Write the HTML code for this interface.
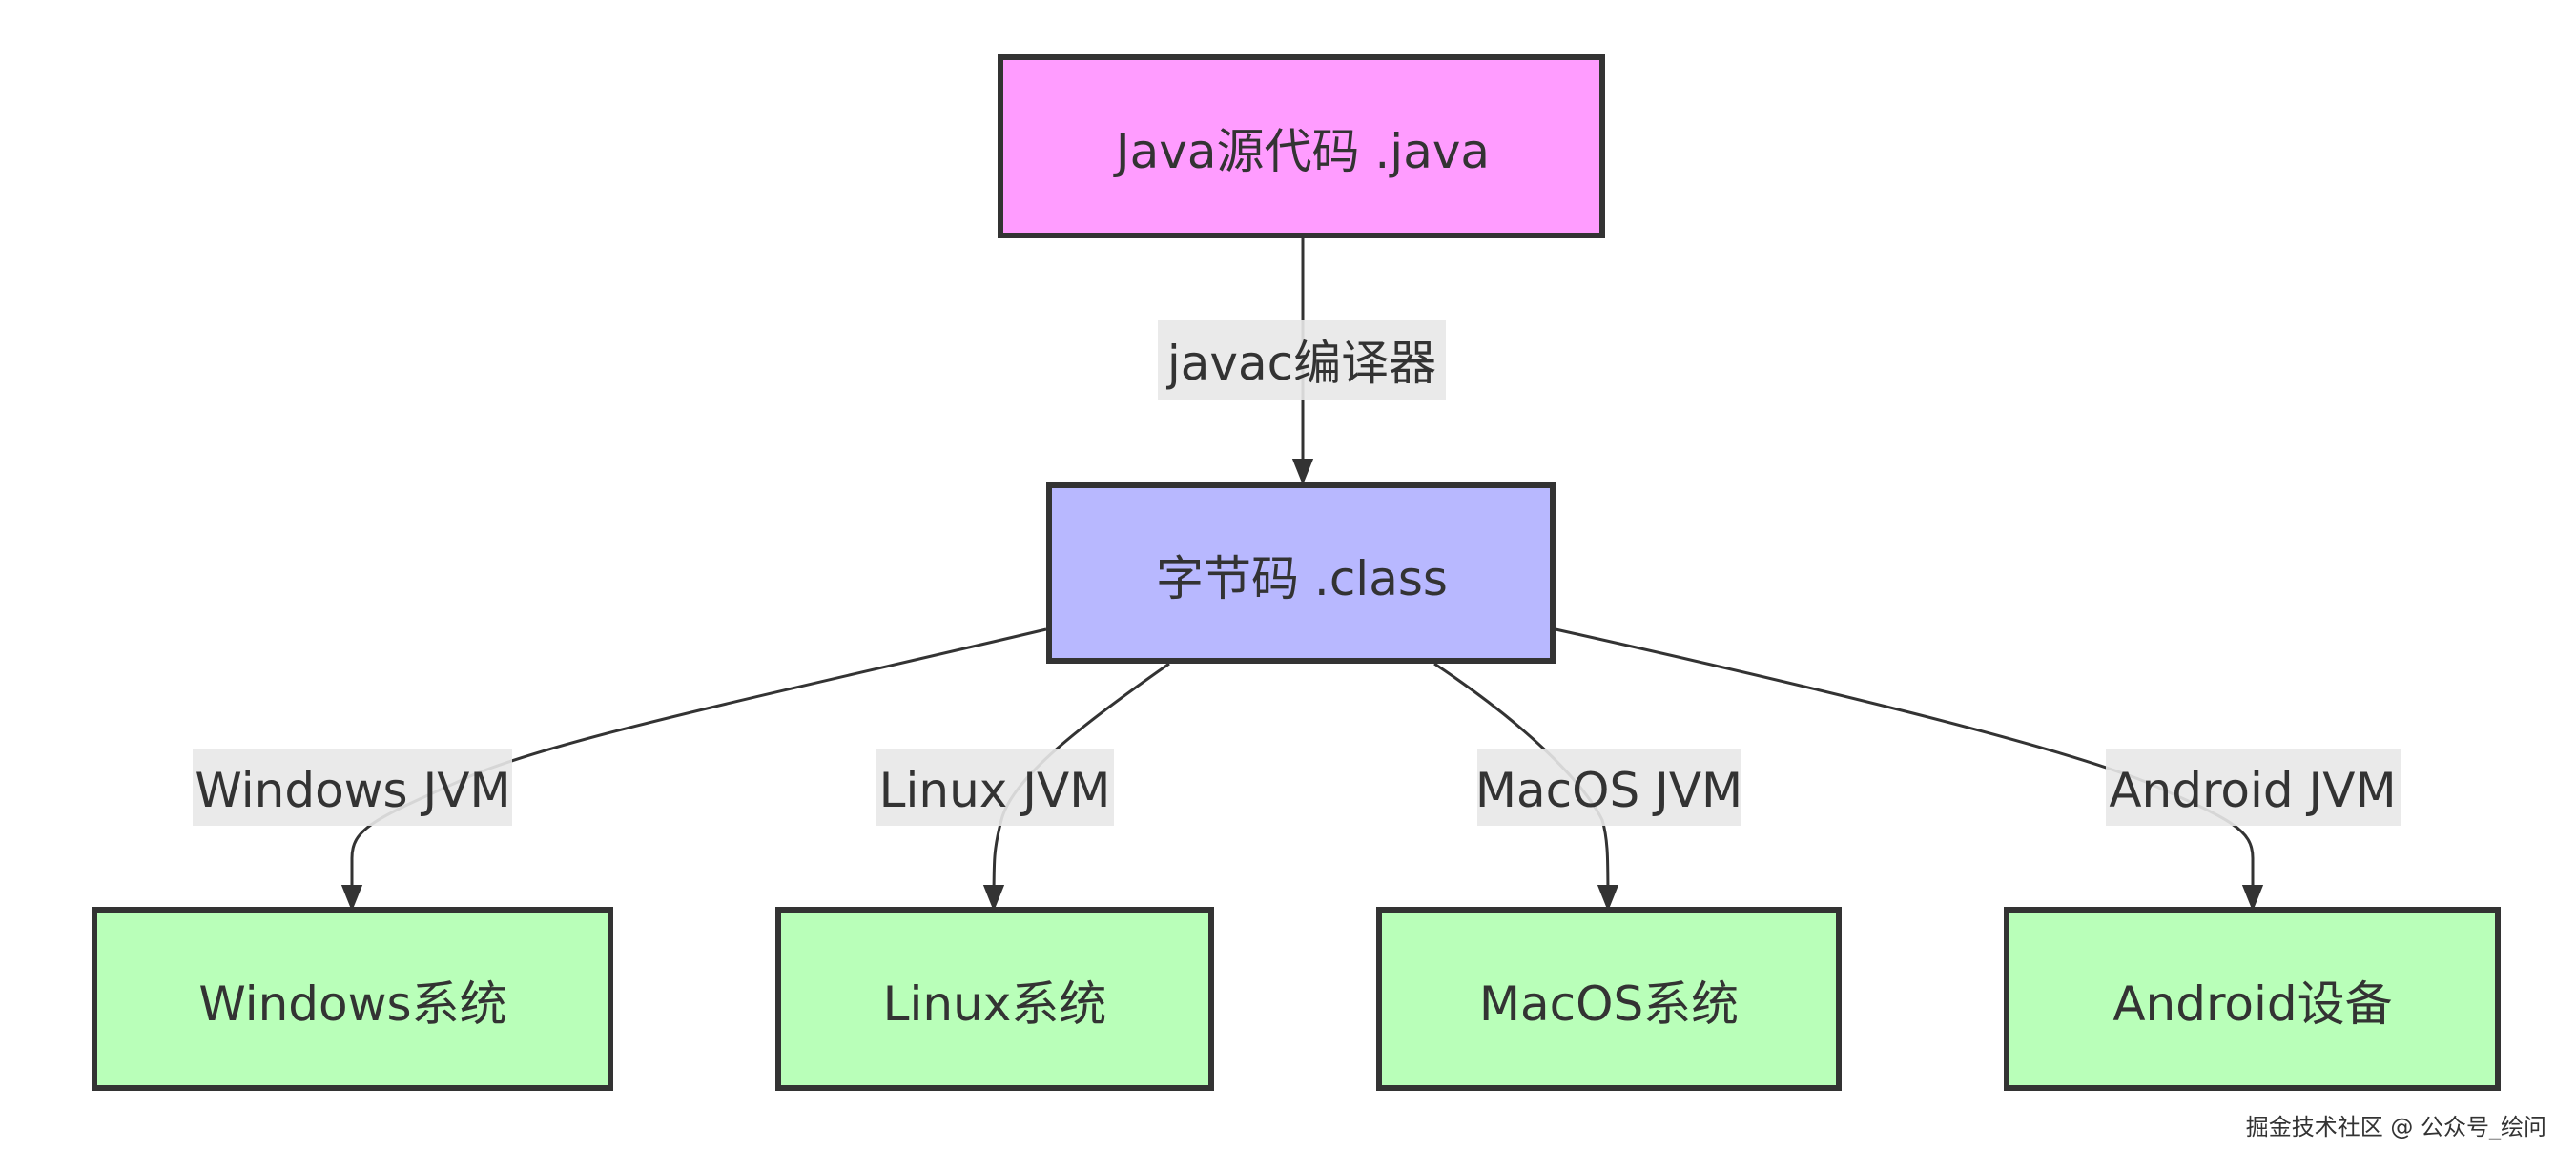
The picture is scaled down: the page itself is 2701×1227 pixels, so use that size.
<!DOCTYPE html>
<html><head><meta charset="utf-8"><style>
html,body{margin:0;padding:0;background:#fff;}
svg{display:block;}
text{font-family:"DejaVu Sans","Noto Sans CJK SC",sans-serif;fill:#333;}
</style></head><body>
<svg width="2701" height="1227" viewBox="0 0 2701 1227" xmlns="http://www.w3.org/2000/svg">
<defs>
<marker id="b" viewBox="0 0 10 10" refX="9" refY="5" markerWidth="28" markerHeight="28" markerUnits="userSpaceOnUse" orient="auto">
<path d="M0,1 L10,5 L0,9 z" fill="#333"/>
</marker>
</defs>
<g fill="none" stroke="#333" stroke-width="3">
<path d="M1366,250 L1366,506" marker-end="url(#b)"/>
<path d="M1097,660 C800,730 560,780 480,820 C390,860 369,870 369,900 L369,953" marker-end="url(#b)"/>
<path d="M1226,696 C1120,770 1060,820 1050,860 C1042,890 1042,900 1042,953" marker-end="url(#b)"/>
<path d="M1504,696 C1600,760 1660,820 1680,860 C1686,880 1686,900 1686,953" marker-end="url(#b)"/>
<path d="M1631,660 C1900,720 2150,780 2250,820 C2340,860 2362,870 2362,900 L2362,953" marker-end="url(#b)"/>
</g>
<rect x="1049" y="60" width="631" height="187" fill="#ff9cff" stroke="#333" stroke-width="6"/>
<text x="1366" y="176" font-size="50" text-anchor="middle">Java源代码 .java</text>
<rect x="1214" y="336" width="302" height="83" fill="#e8e8e8" opacity="0.9"/>
<text x="1365" y="398" font-size="50" text-anchor="middle">javac编译器</text>
<rect x="1100" y="509" width="528" height="184" fill="#b8b8ff" stroke="#333" stroke-width="6"/>
<text x="1365" y="624" font-size="50" text-anchor="middle">字节码 .class</text>
<g fill="#e8e8e8" opacity="0.9">
<rect x="202" y="785" width="335" height="81"/>
<rect x="918" y="785" width="250" height="81"/>
<rect x="1549" y="785" width="277" height="81"/>
<rect x="2208" y="785" width="309" height="81"/>
</g>
<g font-size="50" text-anchor="middle">
<text x="370" y="846">Windows JVM</text>
<text x="1043" y="846">Linux JVM</text>
<text x="1687" y="846">MacOS JVM</text>
<text x="2362" y="846">Android JVM</text>
</g>
<g fill="#b9ffb9" stroke="#333" stroke-width="6">
<rect x="99" y="954" width="541" height="187"/>
<rect x="816" y="954" width="454" height="187"/>
<rect x="1446" y="954" width="482" height="187"/>
<rect x="2104" y="954" width="515" height="187"/>
</g>
<g font-size="50" text-anchor="middle">
<text x="370" y="1070">Windows系统</text>
<text x="1043" y="1070">Linux系统</text>
<text x="1687" y="1070">MacOS系统</text>
<text x="2362" y="1070">Android设备</text>
</g>
<text x="2670" y="1190" font-size="24" text-anchor="end" fill="#444">掘金技术社区 @ 公众号_绘问</text>
</svg>
</body></html>
